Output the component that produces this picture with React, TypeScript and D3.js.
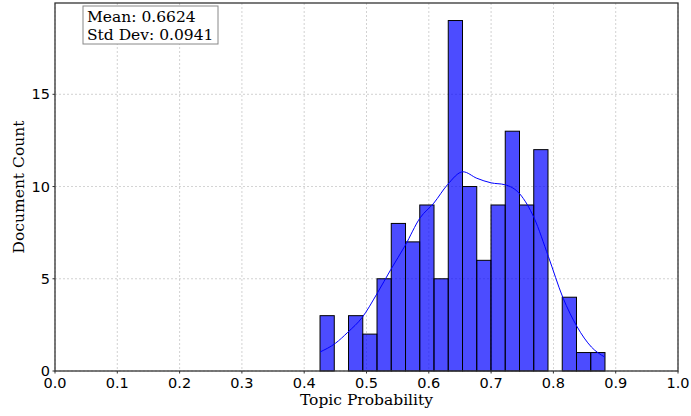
import React from "react";
import * as d3 from "d3";

const binStart = 0.4254;
const binWidth = 0.02287;
const counts = [3, 0, 3, 2, 5, 8, 7, 9, 5, 19, 10, 6, 9, 13, 9, 12, 0, 4, 1, 1];
const kdeX = [0.4254, 0.45, 0.47, 0.493, 0.517, 0.539, 0.562, 0.586, 0.608, 0.63, 0.655, 0.677, 0.70, 0.722, 0.746, 0.769, 0.792, 0.815, 0.838, 0.861, 0.8828];
const kdeY = [1.03, 1.5, 2.1, 2.9, 4.2, 5.5, 6.8, 8.3, 9.1, 10.1, 10.8, 10.45, 10.2, 10.1, 9.6, 8.3, 6.2, 4.0, 2.4, 1.3, 0.75];
const xTicks = [0, 0.1, 0.2, 0.3, 0.4, 0.5, 0.6, 0.7, 0.8, 0.9, 1.0];
const yTicks = [0, 5, 10, 15];
const statLines = ["Mean: 0.6624", "Std Dev: 0.0941"];

const W = 691, H = 416;
const L = 55, R = 678, T = 3, B = 371;

export default function App() {
  const x = d3.scaleLinear().domain([0, 1]).range([L, R]);
  const y = d3.scaleLinear().domain([0, 19.95]).range([B, T]);
  const line = d3
    .line<number>()
    .x((_, i) => x(kdeX[i]))
    .y((d) => y(d))
    .curve(d3.curveMonotoneX);
  const sans = "DejaVu Sans, sans-serif";
  const serif = "DejaVu Serif, serif";
  return (
    <svg width={W} height={H} style={{ position: "absolute", left: 0, top: 0 }}>
      <rect width={W} height={H} fill="#fff" />
      {xTicks.map((t) => (
        <line key={"gx" + t} x1={x(t)} x2={x(t)} y1={T} y2={B} stroke="#b0b0b0" strokeWidth={0.8} strokeDasharray="2,2" opacity={0.7} />
      ))}
      {yTicks.map((t) => (
        <line key={"gy" + t} x1={L} x2={R} y1={y(t)} y2={y(t)} stroke="#b0b0b0" strokeWidth={0.8} strokeDasharray="2,2" opacity={0.7} />
      ))}
      {counts.map((c, i) => {
        const x0 = x(binStart + i * binWidth);
        const x1 = x(binStart + (i + 1) * binWidth);
        return (
          <rect key={"b" + i} x={x0} y={y(c)} width={x1 - x0} height={y(0) - y(c)} fill="rgba(0,0,255,0.7)" stroke="#000" strokeWidth={1} />
        );
      })}
      <path d={line(kdeY) || ""} fill="none" stroke="#0000ff" strokeWidth={1} />
      <rect x={L} y={T} width={R - L} height={B - T} fill="none" stroke="#333" strokeWidth={1.3} />
      {xTicks.map((t) => (
        <line key={"tx" + t} x1={x(t)} x2={x(t)} y1={B} y2={B + 2.5} stroke="#333" strokeWidth={1} />
      ))}
      {yTicks.map((t) => (
        <line key={"ty" + t} x1={L - 2.5} x2={L} y1={y(t)} y2={y(t)} stroke="#333" strokeWidth={1} />
      ))}
      {xTicks.map((t) => (
        <text key={"xl" + t} x={x(t)} y={388} textAnchor="middle" fontFamily={sans} fontSize={14.5} fill="#000">
          {t.toFixed(1)}
        </text>
      ))}
      {yTicks.map((t) => (
        <text key={"yl" + t} x={50} y={y(t) + 5} textAnchor="end" fontFamily={sans} fontSize={14.5} fill="#000">
          {t}
        </text>
      ))}
      <text x={(L + R) / 2} y={405} textAnchor="middle" fontFamily={serif} fontSize={15.5} fill="#000">
        Topic Probability
      </text>
      <text transform={`translate(24,${(T + B) / 2}) rotate(-90)`} textAnchor="middle" fontFamily={serif} fontSize={15.5} fill="#000">
        Document Count
      </text>
      <rect x={83} y={6} width={135} height={38} fill="#fff" stroke="#888" strokeWidth={1} />
      {statLines.map((s, i) => (
        <text key={s} x={87} y={22 + i * 18} fontFamily={serif} fontSize={15.5} fill="#000">
          {s}
        </text>
      ))}
    </svg>
  );
}
